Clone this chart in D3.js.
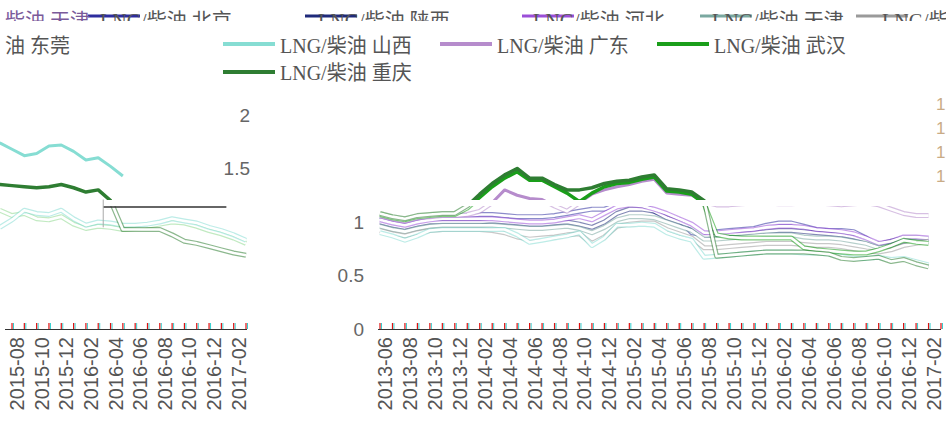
<!DOCTYPE html>
<html><head><meta charset="utf-8">
<script src="https://cdn.jsdelivr.net/npm/d3@7"></script>
<style>body{margin:0;background:#fff;overflow:hidden} svg{display:block}</style>
</head><body><svg id="c" width="946" height="421"></svg>
<script>
// ---------- data ----------
const months = ["2013-06","2013-07","2013-08","2013-09","2013-10","2013-11","2013-12","2014-01","2014-02","2014-03","2014-04","2014-05","2014-06","2014-07","2014-08","2014-09","2014-10","2014-11","2014-12","2015-01","2015-02","2015-03","2015-04","2015-05","2015-06","2015-07","2015-08","2015-09","2015-10","2015-11","2015-12","2016-01","2016-02","2016-03","2016-04","2016-05","2016-06","2016-07","2016-08","2016-09","2016-10","2016-11","2016-12","2017-01","2017-02"];
const axisMonths = months.concat(["2017-03"]);
const seriesNames = ["LNG/柴油 北京","LNG/柴油 陕西","LNG/柴油 河北","LNG/柴油 天津","LNG/柴油 东莞","LNG/柴油 山西","LNG/柴油 广东","LNG/柴油 武汉","LNG/柴油 重庆"];
const seriesColors = ["#2d2d9e","#1f2a7a","#9b4fd8","#7aa8a0","#9a9a9a","#86ddd3","#b68ccc","#1a9e1a","#2e7d32"];
const beijing  = [1.05,1.02,1.00,1.03,1.05,1.06,1.06,1.06,1.07,1.07,1.06,1.05,1.05,1.05,1.06,1.08,1.10,1.12,1.12,1.16,1.18,1.16,1.10,1.06,1.02,0.90,0.88,0.91,0.92,0.93,0.94,0.97,0.99,0.99,0.96,0.93,0.92,0.92,0.91,0.85,0.77,0.79,0.82,0.84,0.81];
const shaanxi  = [1.00,0.97,0.95,0.98,1.00,1.00,1.00,1.00,1.00,1.01,1.00,0.99,0.98,0.98,0.99,1.00,0.98,0.95,1.00,1.08,1.12,1.12,1.10,1.04,1.00,0.96,0.87,0.88,0.89,0.89,0.90,0.91,0.92,0.92,0.91,0.90,0.89,0.88,0.86,0.83,0.79,0.82,0.85,0.85,0.84];
const hebei    = [1.02,0.99,0.97,1.00,1.02,1.03,1.03,1.03,1.03,1.03,1.02,1.01,1.00,1.00,1.01,1.03,1.05,1.02,1.08,1.14,1.16,1.15,1.12,1.08,1.03,0.98,0.90,0.90,0.91,0.92,0.93,0.95,0.96,0.96,0.95,0.93,0.92,0.91,0.89,0.85,0.80,0.82,0.86,0.86,0.85];
const tianjin  = [0.96,0.93,0.91,0.94,0.96,0.97,0.97,0.97,0.97,0.97,0.96,0.95,0.94,0.94,0.95,0.96,0.94,0.90,0.95,1.02,1.05,1.05,1.04,1.00,0.96,0.92,0.84,0.84,0.85,0.86,0.87,0.88,0.88,0.88,0.86,0.85,0.85,0.84,0.82,0.80,0.76,0.78,0.82,0.82,0.81];
const dongguan = [0.92,0.89,0.87,0.90,0.92,0.93,0.93,0.93,0.93,0.92,0.90,0.86,0.84,0.85,0.86,0.88,0.89,0.80,0.86,0.96,0.98,0.99,0.99,0.93,0.89,0.85,0.76,0.76,0.77,0.78,0.79,0.80,0.80,0.80,0.79,0.78,0.78,0.77,0.75,0.73,0.72,0.74,0.78,0.80,0.82];
const shanxi   = [0.90,0.87,0.83,0.87,0.92,0.93,0.93,0.93,0.93,0.93,0.93,0.88,0.81,0.83,0.85,0.87,0.90,0.78,0.85,0.97,0.97,0.98,0.97,0.90,0.86,0.83,0.67,0.68,0.69,0.70,0.71,0.72,0.72,0.72,0.71,0.71,0.70,0.68,0.66,0.66,0.67,0.65,0.66,0.63,0.60];
const guangdong= [1.06,1.03,1.01,1.04,1.05,1.06,1.06,1.07,1.10,1.18,1.30,1.25,1.22,1.21,1.15,1.10,1.18,1.26,1.30,1.33,1.35,1.38,1.40,1.27,1.26,1.25,1.19,1.16,1.16,1.17,1.18,1.18,1.17,1.17,1.18,1.18,1.17,1.16,1.17,1.18,1.16,1.12,1.08,1.06,1.06];
const wuhan    = [1.07,1.04,1.02,1.05,1.06,1.07,1.07,1.13,1.23,1.33,1.41,1.47,1.39,1.39,1.33,1.27,1.19,1.27,1.33,1.36,1.37,1.40,1.42,1.29,1.28,1.26,1.17,0.88,0.86,0.85,0.85,0.85,0.85,0.85,0.76,0.74,0.73,0.72,0.71,0.71,0.74,0.78,0.83,0.81,0.80];
const chongqing= [1.08,1.05,1.03,1.06,1.07,1.08,1.08,1.15,1.26,1.36,1.44,1.50,1.41,1.41,1.35,1.30,1.30,1.32,1.36,1.38,1.39,1.42,1.44,1.31,1.30,1.28,1.20,0.68,0.69,0.70,0.71,0.72,0.72,0.72,0.72,0.71,0.70,0.66,0.65,0.66,0.67,0.63,0.65,0.61,0.58];
const allSeries = [beijing,shaanxi,hebei,tianjin,dongguan,shanxi,guangdong,wuhan,chongqing];

// inset panel (left strip)
const insetMonths = ["2015-07","2015-08","2015-09","2015-10","2015-11","2015-12","2016-01","2016-02","2016-03","2016-04","2016-05","2016-06","2016-07","2016-08","2016-09","2016-10","2016-11","2016-12","2017-01","2017-02","2017-03"];
const insetShanxi = [1.74,1.68,1.62,1.64,1.71,1.72,1.66,1.58,1.60,1.52,1.43,null,null,null,null,null,null,null,null,null,null];
const insetChongqing = [1.35,1.34,1.33,1.32,1.33,1.35,1.32,1.28,1.30,1.20,0.93,0.93,0.93,0.93,0.88,0.82,0.80,0.77,0.74,0.71,0.69];
const insetA = [0.95,1.02,1.11,1.08,1.07,1.11,1.03,0.97,1.00,0.99,0.97,0.97,0.98,1.00,1.03,1.01,0.99,0.95,0.92,0.88,0.83];
const insetB = [1.11,1.06,1.08,1.03,1.02,1.05,0.98,0.94,0.96,0.95,0.93,0.94,0.96,0.98,1.00,0.99,0.96,0.92,0.89,0.85,0.80];
const insetSeries = [insetB, insetA, insetChongqing, insetShanxi];
const insetColors = ["#8fd98f","#86ddd3","#2e7d32","#86ddd3"];
const insetRef = {from:"2016-03", to:"2017-01", value:1.14, low:0.95, high:1.21};

const yTicksMain = [0, 0.5, 1];
const yTicksUpper = [1.5, 2];
const yTicksRight = [1.2, 1.4, 1.6, 1.8];

// ---------- drawing ----------
const svg = d3.select("#c");
const defs = svg.append("defs");
const FONT_SANS = "'Liberation Sans', Arial, sans-serif";
const FONT_LEG = "'Liberation Serif', 'Noto Sans CJK SC', serif";

const y = d3.scaleLinear().domain([0, 2]).range([329, 115]);
const x = d3.scalePoint().domain(axisMonths).range([380, 941]);
const xi = d3.scalePoint().domain(insetMonths).range([-0.3, 246]);

function clip(id, x0, y0, w, h) {
  defs.append("clipPath").attr("id", id).append("rect").attr("x", x0).attr("y", y0).attr("width", w).attr("height", h);
}
clip("mainUp", 376, 60, 570, 140);
clip("mainLo", 376, 206, 570, 118);
clip("insUp", 0, 60, 252, 140);
clip("insLo", 0, 206, 252, 118);
clip("leg1", 0, 0, 946, 21);

function drawSet(gUp, gLo, xs, months, data, colors, widths) {
  data.forEach((vals, i) => {
    const line = d3.line().defined(d => d != null).x((d, j) => xs(months[j])).y(d => y(d));
    gUp.append("path").attr("d", line(vals)).attr("fill", "none")
      .attr("stroke", colors[i]).attr("stroke-width", widths[i]).attr("stroke-linejoin", "round");
    gLo.append("path").attr("d", line(vals)).attr("fill", "none")
      .attr("stroke", colors[i]).attr("stroke-opacity", 0.55).attr("stroke-width", 5).attr("stroke-linejoin", "round");
    gLo.append("path").attr("d", line(vals)).attr("fill", "none")
      .attr("stroke", "#fff").attr("stroke-width", 2.6).attr("stroke-linejoin", "round");
  });
}

// main panel
const mUp = svg.append("g").attr("clip-path", "url(#mainUp)");
const mLo = svg.append("g").attr("clip-path", "url(#mainLo)");
drawSet(mUp, mLo, x, months, allSeries, seriesColors, [2.5,2.5,2.5,2.5,2.5,3,3,3.5,3.5]);

// inset panel
const iUp = svg.append("g").attr("clip-path", "url(#insUp)");
const iLo = svg.append("g").attr("clip-path", "url(#insLo)");
drawSet(iUp, iLo, xi, insetMonths, insetSeries, insetColors, [2.5,2.5,3.5,3]);
svg.append("line").attr("x1", xi(insetRef.from) + 5).attr("x2", xi(insetRef.to) + 5)
  .attr("y1", y(insetRef.value)).attr("y2", y(insetRef.value)).attr("stroke", "#333").attr("stroke-width", 1.5);
svg.append("line").attr("x1", xi(insetRef.from) + 5).attr("x2", xi(insetRef.from) + 5)
  .attr("y1", y(insetRef.high)).attr("y2", y(insetRef.low)).attr("stroke", "#aaa").attr("stroke-width", 1);

// x axes
function xAxis(xs, domainMonths, firstIdx, x0, x1) {
  const g = svg.append("g");
  g.append("line").attr("x1", x0).attr("x2", x1).attr("y1", 329.5).attr("y2", 329.5).attr("stroke", "#333").attr("stroke-width", 1.2);
  domainMonths.forEach((m, i) => {
    if (i < firstIdx) return;
    const px = xs(m);
    g.append("line").attr("x1", px + 1.5).attr("x2", px + 1.5).attr("y1", 323).attr("y2", 329).attr("stroke", "#33d0d0").attr("stroke-width", 1);
    g.append("line").attr("x1", px).attr("x2", px).attr("y1", 323).attr("y2", 329).attr("stroke", "#e01010").attr("stroke-width", 1.2);
    if ((i - firstIdx) % 2 === 0 && m !== "2017-03") {
      g.append("text").attr("transform", `translate(${px + 5},337) rotate(-90)`)
        .attr("text-anchor", "end").attr("dy", "0.35em")
        .attr("font-family", FONT_SANS).attr("font-size", 20).attr("fill", "#555").text(m);
    }
  });
}
xAxis(x, axisMonths, 0, 378, 941);
xAxis(xi, insetMonths, 1, 5, 247);

// y labels
yTicksMain.forEach(v => svg.append("text").attr("x", 364).attr("y", y(v)).attr("dy", "0.35em")
  .attr("text-anchor", "end").attr("font-family", FONT_SANS).attr("font-size", 19).attr("fill", "#666").text(v));
yTicksUpper.forEach(v => svg.append("text").attr("x", 250).attr("y", y(v)).attr("dy", "0.35em")
  .attr("text-anchor", "end").attr("font-family", FONT_SANS).attr("font-size", 19).attr("fill", "#666").text(v));
// partial right-hand axis: only the leading "1" of each label shows at the edge
const yr = d3.scaleLinear().domain([1.2, 1.8]).range([176, 104]);
yTicksRight.forEach(v => svg.append("text").attr("x", 936).attr("y", yr(v)).attr("dy", "0.35em")
  .attr("text-anchor", "start").attr("font-family", FONT_SANS).attr("font-size", 17).attr("fill", "#c9ab86").text(String(v).charAt(0)));

// legend
const legend = [
  {i:0, row:1, lx:88, tx:100},  {i:1, row:1, lx:305, tx:318}, {i:2, row:1, lx:522, tx:533}, {i:3, row:1, lx:700, tx:712}, {i:4, row:1, lx:856, tx:882},
  {i:5, row:2, lx:223, tx:280}, {i:6, row:2, lx:440, tx:497}, {i:7, row:2, lx:657, tx:714},
  {i:8, row:3, lx:223, tx:280}
];
const rowY = {1:[16,28], 2:[44,53], 3:[72,80]};
const lg1 = svg.append("g").attr("clip-path", "url(#leg1)");
legend.forEach(it => {
  const g = it.row === 1 ? lg1 : svg;
  const [ly, ty] = rowY[it.row];
  g.append("line").attr("x1", it.lx).attr("x2", Math.min(it.lx + 52, 946)).attr("y1", ly).attr("y2", ly)
    .attr("stroke", seriesColors[it.i]).attr("stroke-width", it.row === 1 ? 3 : 4);
  // the last first-row entry wraps: its head stays on row 1, its tail starts row 2
  const label = it.i === 4 ? seriesNames[it.i].slice(0, 5) : seriesNames[it.i];
  g.append("text").attr("x", it.tx).attr("y", ty).attr("font-family", FONT_LEG).attr("font-size", 20)
    .attr("fill", "#555").text(label);
});
svg.append("text").attr("x", 5).attr("y", 53).attr("font-family", FONT_LEG).attr("font-size", 20)
  .attr("fill", "#555").text(seriesNames[4].slice(5));
lg1.append("text").attr("x", 5).attr("y", 28).attr("font-family", FONT_LEG).attr("font-size", 20)
  .attr("fill", "#7a5a9a").text(seriesNames[3].slice(4));
</script></body></html>
